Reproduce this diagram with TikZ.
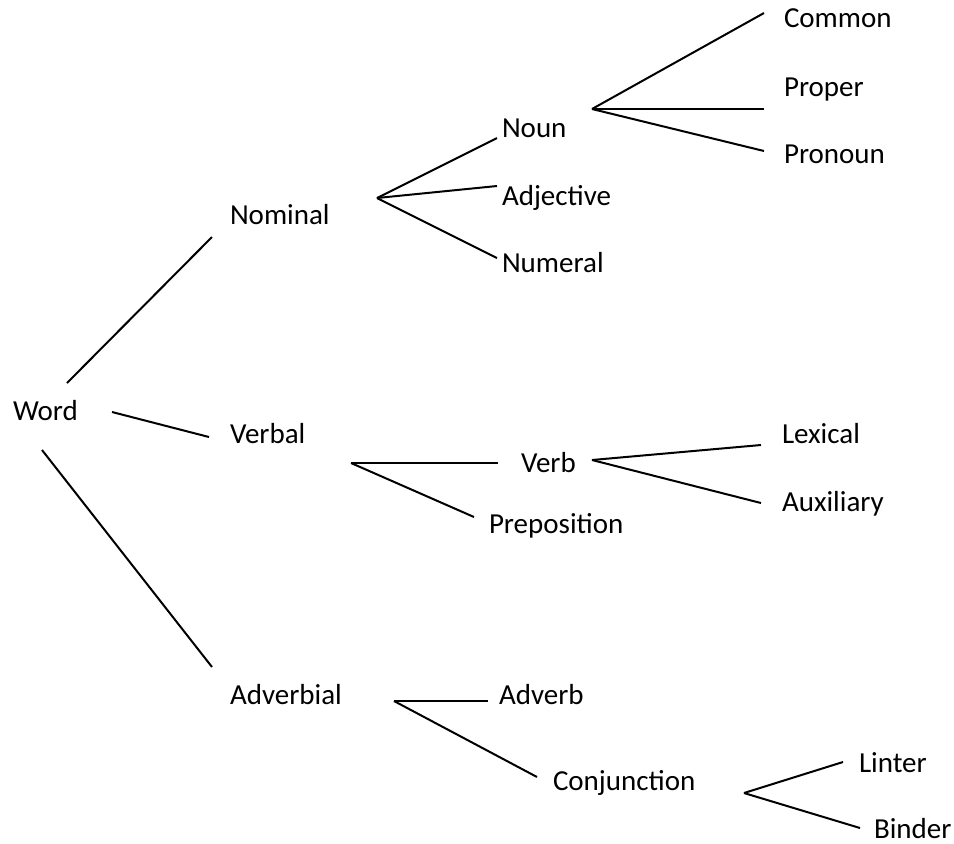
\documentclass[tikz,border=0pt]{standalone}
\usepackage{fontspec}
\setmainfont{Carlito}
\begin{document}
\begin{tikzpicture}[x=0.5pt, y=-0.5pt, line width=1pt, every node/.style={anchor=base west, inner sep=0pt, font=\fontsize{14.5}{17}\selectfont}]
			\useasboundingbox (0,0) rectangle (954,843);
			% labels
			\node(Word) at (12,420) {Word};
			\node(Nominal) at (229,224) {Nominal};
			\node(Verbal) at (229,443) {Verbal};
			\node(Adverbial) at (229,704) {Adverbial};
			\node(Noun) at (501,137) {Noun};
			\node(Adjective) at (501,205) {Adjective};
			\node(Numeral) at (501,272) {Numeral};
			\node(Common) at (783,27) {Common};
			\node(Proper) at (783,96) {Proper};
			\node(Pronoun) at (783,163) {Pronoun};
			\node(Verb) at (520,472) {Verb};
			\node(Preposition) at (488,533) {Preposition};
			\node(Lexical) at (781,443) {Lexical};
			\node(Auxiliary) at (781,511) {Auxiliary};
			\node(Adverb) at (498,704) {Adverb};
			\node(Conjunction) at (552,790) {Conjunction};
			\node(Linter) at (858,772) {Linter};
			\node(Binder) at (873,838) {Binder};
			% line ends
			\coordinate(wa) at (67,383);
			\coordinate(wb) at (112,412);
			\coordinate(wc) at (42,450);
			\coordinate(na) at (212,237);
			\coordinate(va) at (209,437);
			\coordinate(aa) at (212,667);
			\coordinate(nf) at (377,198);
			\coordinate(nounL) at (497,138);
			\coordinate(adjL) at (497,186);
			\coordinate(numL) at (497,258);
			\coordinate(nnf) at (592,109);
			\coordinate(comL) at (764,13);
			\coordinate(proL) at (764,109);
			\coordinate(pronL) at (764,151);
			\coordinate(vf) at (351,463);
			\coordinate(verbL) at (498,463);
			\coordinate(prepL) at (474,517);
			\coordinate(vbf) at (592,460);
			\coordinate(lexL) at (761,445);
			\coordinate(auxL) at (761,503);
			\coordinate(af) at (394,701);
			\coordinate(advL) at (488,701);
			\coordinate(conjL) at (537,777);
			\coordinate(cf) at (744,793);
			\coordinate(linL) at (843,762);
			\coordinate(binL) at (860,828);
			% branches
			\draw(wa) -- (na);
			\draw(wb) -- (va);
			\draw(wc) -- (aa);
			\draw(nf) -- (nounL);
			\draw(nf) -- (adjL);
			\draw(nf) -- (numL);
			\draw(nnf) -- (comL);
			\draw(nnf) -- (proL);
			\draw(nnf) -- (pronL);
			\draw(vf) -- (verbL);
			\draw(vf) -- (prepL);
			\draw(vbf) -- (lexL);
			\draw(vbf) -- (auxL);
			\draw(af) -- (advL);
			\draw(af) -- (conjL);
			\draw(cf) -- (linL);
			\draw(cf) -- (binL);
		\end{tikzpicture}
\end{document}
